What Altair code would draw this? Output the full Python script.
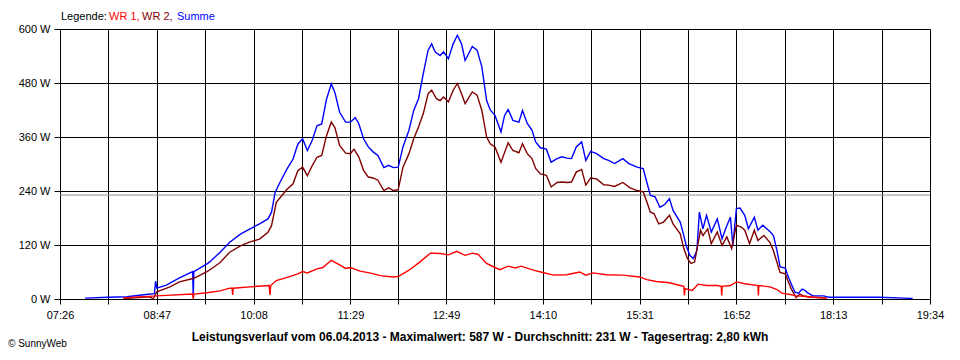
import altair as alt
import pandas as pd

# ---- data (minutes after 07:26, watts) ----
SUMME_T = [21, 40, 56, 72, 79, 80, 81, 89, 100, 111, 111.5, 112, 123, 125.5, 134, 142, 151, 159, 167, 174, 177, 180, 184, 190,
           195, 199, 203, 207, 211, 215, 219, 223, 227, 230, 234, 239, 243, 247, 250, 254, 258, 262, 266, 271, 275, 279,
           283, 287, 292, 296, 300, 304, 308, 311, 314, 318, 321, 325, 329, 332.5, 336, 339, 345, 349, 353, 357, 360, 364,
           369, 372, 375, 379, 384, 387, 391, 395, 398, 402, 407, 411, 416, 420, 424, 428, 432, 436.5, 440, 444, 449, 455,
           459, 464, 471, 476, 483, 488, 491, 494, 498, 502, 506, 510, 513, 519, 522, 524, 527, 530, 533, 535, 538, 541,
           545, 550, 554, 557, 561, 563, 566, 569, 573, 576, 581, 584, 588, 594, 597, 600, 602.5, 607, 609, 612, 615, 618,
           621, 623, 626, 630, 639, 643, 664, 686, 706, 713.5]
SUMME_W = [2, 4, 5, 10, 12, 40, 24, 31, 47, 61, 5, 61, 78, 83, 104, 126, 144, 156, 167, 178, 193, 237, 259, 289,
           311, 344, 356, 330, 352, 385, 389, 444, 478, 459, 415, 393, 393, 403, 390, 356, 338, 327, 319, 292, 297, 292,
           293, 338, 375, 419, 445, 501, 553, 567, 549, 541, 549, 534, 567, 586, 567, 530, 561, 553, 516, 441, 420, 408,
           371, 408, 421, 397, 393, 419, 390, 375, 349, 336, 333, 304, 312, 316, 313, 312, 338, 349, 308, 328, 323, 312,
           308, 301, 312, 301, 293, 290, 260, 230, 227, 204, 210, 223, 197, 171, 141, 119, 97, 90, 108, 193, 156, 186,
           149, 178, 134, 156, 182, 119, 201, 202, 186, 156, 182, 153, 164, 150, 141, 107, 72, 68, 52, 33, 15, 13,
           22, 20, 13, 7, 7, 4, 4, 4, 2, 1]

WR2_T = [53, 75, 78, 81, 92, 100, 112, 123, 125.5, 134, 142, 151, 159, 167, 174, 177, 181, 190, 195, 199, 203, 207, 211,
         215, 219, 223, 227, 230, 234, 239, 243, 246, 250, 254, 258, 262, 266, 271, 275, 279, 283, 287, 292, 296, 300,
         304, 308, 311, 315, 318, 321, 325, 329, 332.5, 336, 339, 345, 349, 353, 357, 360, 364, 369, 375, 379, 384, 387,
         391, 395, 398, 402, 407, 411, 416, 420, 424, 428, 432, 436.5, 440, 444, 449, 455, 459, 464, 471, 477, 483, 488,
         491, 494, 497, 501, 505, 510, 513, 519, 522, 525, 528, 531, 536, 538, 542, 545, 550, 554, 558, 562, 566, 570,
         573, 577, 581, 584, 589, 594, 597, 600, 602.5, 607, 609, 612, 616, 619, 622, 626, 630, 639, 641.5]
WR2_W = [1, 5, 0, 16, 27, 38, 46, 61, 65, 81, 104, 118, 127, 133, 148, 163, 215, 244, 256, 285, 293, 274, 296,
         315, 319, 363, 393, 381, 341, 324, 323, 333, 316, 286, 271, 269, 264, 241, 247, 241, 243, 293, 323, 356, 382,
         412, 456, 464, 445, 441, 449, 438, 464, 479, 456, 434, 460, 453, 419, 360, 345, 338, 304, 347, 330, 325, 345,
         323, 312, 290, 278, 275, 249, 259, 260, 259, 260, 282, 288, 253, 269, 267, 254, 253, 250, 259, 247, 241, 238,
         216, 193, 190, 167, 171, 186, 167, 145, 112, 90, 79, 82, 153, 141, 156, 123, 149, 119, 138, 112, 164, 160,
         153, 123, 153, 130, 141, 126, 107, 81, 59, 56, 41, 22, 3, 11, 7, 5, 4, 3, 1]

WR1_T = [53, 56, 81, 89, 111, 111.5, 112, 123, 134, 142, 144, 144.5, 145, 159, 175, 175.7, 176.3, 181, 190, 199, 203,
         207, 215, 220, 227, 234, 239, 243, 251, 259, 268, 279, 283, 292, 301, 310, 318, 325, 332, 339, 345, 350, 357,
         360, 368, 375, 381, 386, 396, 404, 413, 424, 435, 440, 446, 457, 471, 485, 491, 499, 510, 519, 522, 522.5, 523,
         529, 534, 541, 550, 553.3, 553.7, 554.1, 561, 566, 573, 584, 584.4, 584.8, 594, 600, 604, 611, 616, 622, 630,
         639, 641.5]
WR1_W = [2, 3, 7, 8, 11, 0, 11, 14, 18, 24, 24, 9, 24, 27, 30, 9, 30, 41, 48, 56, 61,
         58, 67, 70, 86, 76, 68, 70, 62, 58, 52, 49, 50, 64, 82, 102, 101, 98, 106, 97, 102, 99, 79,
         75, 65, 73, 69, 73, 64, 59, 53, 54, 60, 53, 58, 54, 53, 49, 43, 39, 36, 30, 28, 8, 23,
         19, 33, 30, 30, 28, 8, 28, 30, 38, 34, 30, 8, 30, 27, 21, 13, 10, 7, 6, 4,
         2, 1]

AVERAGE = [231]
Y_TICKS = [0, 120, 240, 360, 480, 600]
X_LABELS = ["07:26", "08:47", "10:08", "11:29", "12:49", "14:10", "15:31", "16:52", "18:13", "19:34"]
X_MAJOR = [0, 81, 162, 243, 323, 404, 485, 566, 647, 728]
X_MINOR = [40.5, 121.5, 202.5, 283, 363.5, 444.5, 525.5, 606.5, 687.5]

TITLE = "Leistungsverlauf vom 06.04.2013 - Maximalwert: 587 W - Durchschnitt: 231 W - Tagesertrag: 2,80 kWh"
COPY = "\u00a9 SunnyWeb"
LEGEND = [("Legende:", "#000000", 1), ("WR 1,", "#ff0000", 49), ("WR 2,", "#800000", 82), ("Summe", "#0000ff", 117)]

FONT = "Liberation Sans"

xscale = alt.Scale(domain=[0, 728], nice=False, zero=False)
yscale = alt.Scale(domain=[0, 600], nice=False)

label_expr = ("indexof(%s, datum.value) < 0 ? '' : %s[indexof(%s, datum.value)]"
              % (str(X_MAJOR), str(X_LABELS), str(X_MAJOR)))

x_axis = alt.Axis(title=None, values=sorted(X_MAJOR + X_MINOR), labelExpr=label_expr,
                  grid=True, gridColor="#000000", gridOpacity=1, gridWidth=1,
                  domainColor="#000000", tickColor="#000000", tickSize=5, labelPadding=5,
                  labelFlush=False, labelOverlap=False, labelFont=FONT, labelFontSize=11,
                  labelColor="#000000")
y_axis = alt.Axis(title=None, values=Y_TICKS, labelExpr="datum.value + ' W'",
                  grid=True, gridColor="#000000", gridOpacity=1, gridWidth=1,
                  domainColor="#000000", tickColor="#000000", tickSize=6, labelPadding=4,
                  labelFont=FONT, labelFontSize=11, labelColor="#000000")


def line(ts, ws, color):
    df = pd.DataFrame({"t": ts, "w": ws})
    return alt.Chart(df).mark_line(color=color, strokeWidth=1.4).encode(
        x=alt.X("t:Q", scale=xscale, axis=x_axis),
        y=alt.Y("w:Q", scale=yscale, axis=y_axis),
    )


avg = alt.Chart(pd.DataFrame({"w": AVERAGE})).mark_rule(color="#8c8c8c", strokeWidth=1).encode(
    y=alt.Y("w:Q", scale=yscale, axis=y_axis)
)

layers = [avg,
          line(SUMME_T, SUMME_W, "#0000ff"),
          line(WR2_T, WR2_W, "#800000"),
          line(WR1_T, WR1_W, "#ff0000")]

for txt, col, xx in LEGEND:
    layers.append(alt.Chart(pd.DataFrame({"s": [txt]})).mark_text(
        align="left", baseline="alphabetic", font=FONT, fontSize=11, color=col
    ).encode(text="s:N", x=alt.value(xx), y=alt.value(-9)))

layers.append(alt.Chart(pd.DataFrame({"s": [TITLE]})).mark_text(
    align="center", baseline="middle", font=FONT, fontSize=12, fontWeight="bold", color="#000000"
).encode(text="s:N", x=alt.value(420), y=alt.value(308)))

layers.append(alt.Chart(pd.DataFrame({"s": [COPY]})).mark_text(
    align="left", baseline="alphabetic", font=FONT, fontSize=10, color="#000000"
).encode(text="s:N", x=alt.value(-52), y=alt.value(318)))

chart = alt.layer(*layers).properties(
    width=870, height=270,
    autosize=alt.AutoSizeParams(type="none"),
    padding={"left": 52, "top": 21, "right": 22, "bottom": 52},
    background="#ffffff",
).configure_view(strokeWidth=0)

chart.save("out.html", embed_options={"renderer": "svg", "actions": False})
